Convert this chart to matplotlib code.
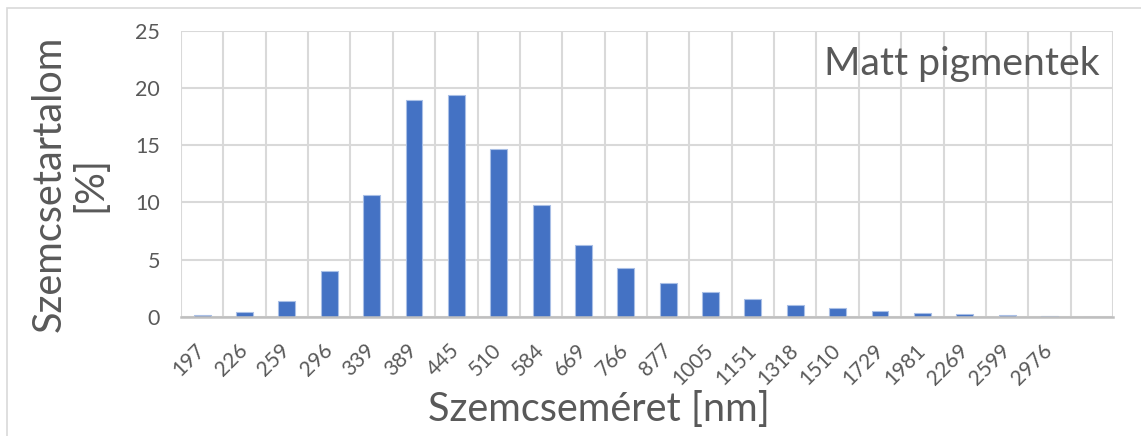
import matplotlib
matplotlib.use("Agg")
import matplotlib.pyplot as plt
from matplotlib.patches import Rectangle

plt.rcParams['font.family'] = ['Lato', 'DejaVu Sans']

sizes = ['197', '226', '259', '296', '339', '389', '445', '510', '584', '669', '766',
         '877', '1005', '1151', '1318', '1510', '1729', '1981', '2269', '2599', '2976', '']
content = [0.15, 0.45, 1.35, 4.0, 10.6, 18.95, 19.35, 14.7, 9.75, 6.3, 4.25,
           2.98, 2.13, 1.52, 1.05, 0.74, 0.5, 0.35, 0.23, 0.15, 0.1, 0.0]

text_col = '#595959'
bar_col = '#4472C4'

fig = plt.figure(figsize=(11.41, 4.36), dpi=100)
ax = fig.add_axes([0.1586, 0.2736, 0.8169, 0.656])

x = list(range(len(sizes)))
ax.bar(x, content, width=0.4, color=bar_col, edgecolor='#A9BFE6', linewidth=0.8, zorder=3)

ax.set_xlim(-0.5, len(sizes) - 0.5)
ax.set_ylim(0, 25)
ax.set_yticks([0, 5, 10, 15, 20, 25])
ax.set_xticks(x)
ax.set_xticklabels(sizes, rotation=45, ha='right', va='center', rotation_mode='anchor')
ax.set_xticks([i - 0.5 for i in range(len(sizes) + 1)], minor=True)

ax.grid(axis='y', which='major', color='#D9D9D9', linewidth=1.5, zorder=0)
ax.grid(axis='x', which='minor', color='#D9D9D9', linewidth=1.5, zorder=0)
ax.tick_params(axis='both', which='both', length=0, labelcolor=text_col)
ax.tick_params(axis='y', pad=15, labelsize=15.5)
ax.tick_params(axis='x', pad=22, labelsize=15)

for s in ['top', 'right', 'left']:
    ax.spines[s].set_visible(False)
ax.spines['bottom'].set_color('#BFBFBF')
ax.spines['bottom'].set_linewidth(1.8)
ax.spines['bottom'].set_zorder(4)

fig.text(0.061, 0.578, 'Szemcsetartalom\n[%]', rotation=90, ha='center', va='center',
         fontsize=28.5, color=text_col, linespacing=1.12)
fig.text(0.525, 0.06, 'Szemcseméret [nm]', ha='center', va='center',
         fontsize=28.5, color=text_col)
fig.text(1100 / 1141, 1 - 75 / 436, 'Matt pigmentek', ha='right', va='baseline',
         fontsize=28.3, color=text_col)

fig.patches.append(Rectangle((7 / 1141, -0.1), 1.2, 1 - 8 / 436 + 0.1, transform=fig.transFigure,
                             fill=False, edgecolor='#D9D9D9', linewidth=1.2))

fig.savefig('out.png', dpi=100)
